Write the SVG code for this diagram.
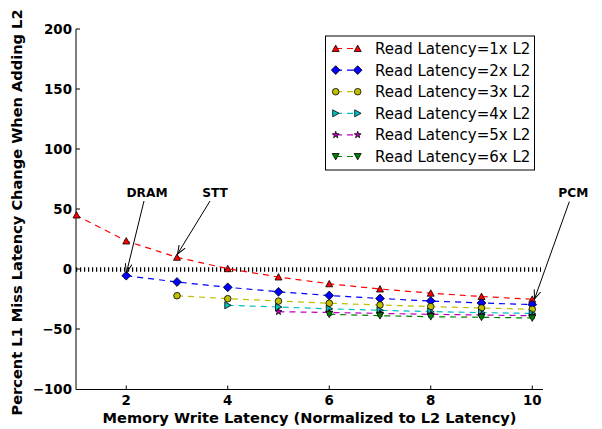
<svg xmlns="http://www.w3.org/2000/svg" width="602" height="429" viewBox="0 0 602 429">
<style>
text{font-family:"DejaVu Sans","Liberation Sans",sans-serif;font-weight:bold;fill:#000}
.tick{font-size:13.4px}
.lab{font-size:14.6px}
.ann{font-size:12.2px}
.leg{font-size:15px;font-weight:normal}
.ax{stroke:#000;stroke-width:1;fill:none}
.dl{fill:none;stroke-width:1.2;stroke-dasharray:6 5}
.m{stroke:#000;stroke-width:0.8}
.c1{stroke:#ff0000}.f1{fill:#ff0000}
.c2{stroke:#0000ff}.f2{fill:#0000ff}
.c3{stroke:#bfbf00}.f3{fill:#bfbf00}
.c4{stroke:#00bfbf}.f4{fill:#00bfbf}
.c5{stroke:#bf00bf}.f5{fill:#bf00bf}
.c6{stroke:#008000}.f6{fill:#008000}
.arr{stroke:#000;stroke-width:1;fill:none}
</style>
<defs>
<path id="mTu" d="M0,-3.4 L3.5,3 L-3.5,3 Z"/>
<path id="mD" d="M0,-4.4 L4.4,0 L0,4.4 L-4.4,0 Z"/>
<circle id="mO" cx="0" cy="0" r="3.3"/>
<path id="mTr" d="M3.4,0 L-3,3.5 L-3,-3.5 Z"/>
<path id="mS" d="M0,-3.6 L0.85,-1.15 L3.4,-1.1 L1.36,0.44 L2.1,2.9 L0,1.45 L-2.1,2.9 L-1.36,0.44 L-3.4,-1.1 L-0.85,-1.15 Z"/>
<path id="mTd" d="M0,3.4 L3.5,-3 L-3.5,-3 Z"/>
<marker id="ah" markerWidth="10" markerHeight="8" refX="9" refY="4" orient="auto" markerUnits="userSpaceOnUse">
<path d="M0,0.5 L9,4 L0,7.5" fill="none" stroke="#000" stroke-width="1"/>
</marker>
</defs>

<g id="axes">
<line class="ax" x1="76" y1="29" x2="76" y2="389.5"/>
<line class="ax" x1="76" y1="389.5" x2="543" y2="389.5"/>
<g class="ax">
<line x1="76" y1="29" x2="80" y2="29"/><line x1="76" y1="89" x2="80" y2="89"/><line x1="76" y1="149" x2="80" y2="149"/><line x1="76" y1="209" x2="80" y2="209"/><line x1="76" y1="269" x2="80" y2="269"/><line x1="76" y1="329" x2="80" y2="329"/>
<line x1="126.25" y1="389.5" x2="126.25" y2="385.5"/><line x1="227.75" y1="389.5" x2="227.75" y2="385.5"/><line x1="329.25" y1="389.5" x2="329.25" y2="385.5"/><line x1="430.75" y1="389.5" x2="430.75" y2="385.5"/><line x1="532.25" y1="389.5" x2="532.25" y2="385.5"/>
</g>
<g class="tick" text-anchor="end">
<text x="72" y="33.7">200</text><text x="72" y="93.7">150</text><text x="72" y="153.7">100</text><text x="72" y="213.7">50</text><text x="72" y="273.7">0</text><text x="72" y="333.7">−50</text><text x="72" y="393.7">−100</text>
</g>
<g class="tick" text-anchor="middle">
<text x="126.25" y="404.5">2</text><text x="227.75" y="404.5">4</text><text x="329.25" y="404.5">6</text><text x="430.75" y="404.5">8</text><text x="532.25" y="404.5">10</text>
</g>
<text class="lab" x="309.5" y="423" text-anchor="middle">Memory Write Latency (Normalized to L2 Latency)</text>
<text class="lab" transform="translate(21.5,212.5) rotate(-90)" text-anchor="middle">Percent L1 Miss Latency Change When Adding L2</text>
</g>

<g id="zero-line">
<line x1="76" y1="269.6" x2="541" y2="269.6" stroke="#000" stroke-width="4.5" stroke-dasharray="1.2 2.8"/>
</g>

<g id="series1">
<polyline class="dl c1" points="75.5,215 126.25,241 177,257.3 227.75,268.7 278.5,277 329.25,283.8 380,289 430.75,293.2 481.5,296.5 532.25,299.3"/>
<g class="m f1">
<use href="#mTu" x="76.5" y="215"/><use href="#mTu" x="126.25" y="241"/><use href="#mTu" x="177" y="257.3"/><use href="#mTu" x="227.75" y="268.7"/><use href="#mTu" x="278.5" y="277"/><use href="#mTu" x="329.25" y="283.8"/><use href="#mTu" x="380" y="289"/><use href="#mTu" x="430.75" y="293.2"/><use href="#mTu" x="481.5" y="296.5"/><use href="#mTu" x="532.25" y="299.3"/>
</g>
</g>
<g id="series2">
<polyline class="dl c2" points="126.25,275.7 177,282 227.75,287.3 278.5,291.8 329.25,295.5 380,298.5 430.75,301 481.5,303 532.25,304.6"/>
<g class="m f2">
<use href="#mD" x="126.25" y="275.7"/><use href="#mD" x="177" y="282"/><use href="#mD" x="227.75" y="287.3"/><use href="#mD" x="278.5" y="291.8"/><use href="#mD" x="329.25" y="295.5"/><use href="#mD" x="380" y="298.5"/><use href="#mD" x="430.75" y="301"/><use href="#mD" x="481.5" y="303"/><use href="#mD" x="532.25" y="304.6"/>
</g>
</g>
<g id="series3">
<polyline class="dl c3" points="177,295.7 227.75,298.7 278.5,301.1 329.25,303.2 380,305 430.75,306.6 481.5,308 532.25,309.3"/>
<g class="m f3">
<use href="#mO" x="177" y="295.7"/><use href="#mO" x="227.75" y="298.7"/><use href="#mO" x="278.5" y="301.1"/><use href="#mO" x="329.25" y="303.2"/><use href="#mO" x="380" y="305"/><use href="#mO" x="430.75" y="306.6"/><use href="#mO" x="481.5" y="308"/><use href="#mO" x="532.25" y="309.3"/>
</g>
</g>
<g id="series4">
<polyline class="dl c4" points="227.75,305.3 278.5,307 329.25,308.8 380,310.3 430.75,311.6 481.5,312.6 532.25,313.4"/>
<g class="m f4">
<use href="#mTr" x="227.75" y="305.3"/><use href="#mTr" x="278.5" y="307"/><use href="#mTr" x="329.25" y="308.8"/><use href="#mTr" x="380" y="310.3"/><use href="#mTr" x="430.75" y="311.6"/><use href="#mTr" x="481.5" y="312.6"/><use href="#mTr" x="532.25" y="313.4"/>
</g>
</g>
<g id="series5">
<polyline class="dl c5" points="278.5,311.7 329.25,312.5 380,313.4 430.75,314.3 481.5,315 532.25,315.7"/>
<g class="m f5">
<use href="#mS" x="278.5" y="311.7"/><use href="#mS" x="329.25" y="312.5"/><use href="#mS" x="380" y="313.4"/><use href="#mS" x="430.75" y="314.3"/><use href="#mS" x="481.5" y="315"/><use href="#mS" x="532.25" y="315.7"/>
</g>
</g>
<g id="series6">
<polyline class="dl c6" points="329.25,314.3 380,315.7 430.75,316.7 481.5,317.3 532.25,318"/>
<g class="m f6">
<use href="#mTd" x="329.25" y="314.3"/><use href="#mTd" x="380" y="315.7"/><use href="#mTd" x="430.75" y="316.7"/><use href="#mTd" x="481.5" y="317.3"/><use href="#mTd" x="532.25" y="318"/>
</g>
</g>

<g id="annotations">
<g id="ann-dram">
<text class="ann" x="147" y="197" text-anchor="middle">DRAM</text>
<line class="arr" x1="144" y1="201" x2="126.5" y2="272.5" marker-end="url(#ah)"/>
</g>
<g id="ann-stt">
<text class="ann" x="215" y="197" text-anchor="middle">STT</text>
<line class="arr" x1="210" y1="201" x2="177.5" y2="254" marker-end="url(#ah)"/>
</g>
<g id="ann-pcm">
<text class="ann" x="573.3" y="197" text-anchor="middle">PCM</text>
<line class="arr" x1="569.3" y1="201.7" x2="534.5" y2="299" marker-end="url(#ah)"/>
</g>
</g>

<g id="legend">
<rect x="325.5" y="36" width="209" height="134" fill="#fff" stroke="#000" stroke-width="1"/>
<g id="leg1"><line class="dl c1" x1="336" y1="48.5" x2="358" y2="48.5"/><g class="m f1"><use href="#mTu" x="335.7" y="48.5"/><use href="#mTu" x="357.7" y="48.5"/></g><text class="leg" x="375" y="54">Read Latency=1x L2</text></g>
<g id="leg2"><line class="dl c2" x1="336" y1="70.1" x2="358" y2="70.1"/><g class="m f2"><use href="#mD" x="335.7" y="70.1"/><use href="#mD" x="357.7" y="70.1"/></g><text class="leg" x="375" y="75.6">Read Latency=2x L2</text></g>
<g id="leg3"><line class="dl c3" x1="336" y1="91.7" x2="358" y2="91.7"/><g class="m f3"><use href="#mO" x="335.7" y="91.7"/><use href="#mO" x="357.7" y="91.7"/></g><text class="leg" x="375" y="97.2">Read Latency=3x L2</text></g>
<g id="leg4"><line class="dl c4" x1="336" y1="113.3" x2="358" y2="113.3"/><g class="m f4"><use href="#mTr" x="335.7" y="113.3"/><use href="#mTr" x="357.7" y="113.3"/></g><text class="leg" x="375" y="118.8">Read Latency=4x L2</text></g>
<g id="leg5"><line class="dl c5" x1="336" y1="134.9" x2="358" y2="134.9"/><g class="m f5"><use href="#mS" x="335.7" y="134.9"/><use href="#mS" x="357.7" y="134.9"/></g><text class="leg" x="375" y="140.4">Read Latency=5x L2</text></g>
<g id="leg6"><line class="dl c6" x1="336" y1="156.5" x2="358" y2="156.5"/><g class="m f6"><use href="#mTd" x="335.7" y="156.5"/><use href="#mTd" x="357.7" y="156.5"/></g><text class="leg" x="375" y="162">Read Latency=6x L2</text></g>
</g>
</svg>
